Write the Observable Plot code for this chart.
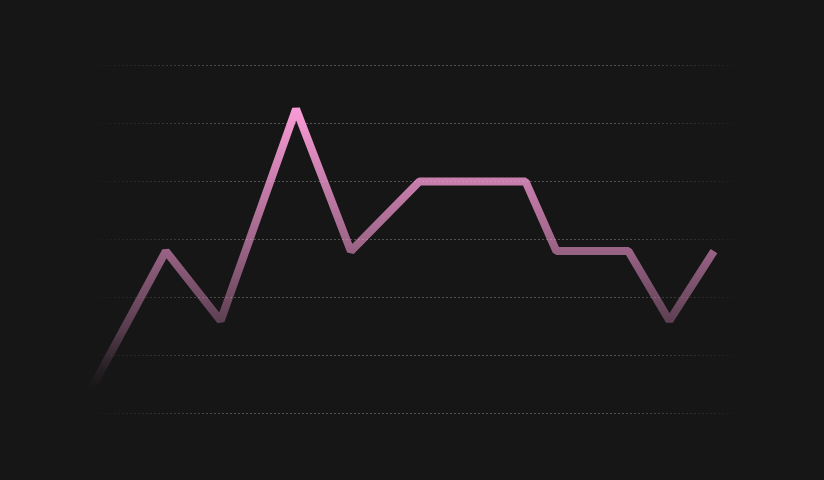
<!DOCTYPE html>
<html><head><meta charset="utf-8">
<script src="https://cdn.jsdelivr.net/npm/d3@7"></script>
<script src="https://cdn.jsdelivr.net/npm/@observablehq/plot@0.6"></script>
<style>html,body{margin:0;padding:0;background:#161616;}</style>
</head><body><div id="chart"></div>
<script>
const xs = [0, 11, 19, 30, 38, 48, 63.5, 68, 78.5, 84.5, 91];
const values = [4, 28, 16, 52.5, 28, 40, 40, 28, 28, 16, 28];
const gridTicks = [0, 10, 20, 30, 40, 50, 60];
const data = xs.map((x, i) => ({x, y: values[i]}));

function gradients(index, scales, vals, dims) {
  const d = d3.create("svg:defs");
  const g = d.append("linearGradient").attr("id", "gridFade")
    .attr("gradientUnits", "userSpaceOnUse")
    .attr("x1", dims.marginLeft).attr("x2", dims.width - dims.marginRight)
    .attr("y1", 0).attr("y2", 0);
  [[0, 0], [0.22, 1], [0.8, 1], [1, 0]].forEach(([o, a]) =>
    g.append("stop").attr("offset", o).attr("stop-color", "#535353").attr("stop-opacity", a));
  const yTop = scales.y(d3.max(values)), yBot = scales.y(d3.min(values));
  const l = d.append("linearGradient").attr("id", "lineFade")
    .attr("gradientUnits", "userSpaceOnUse")
    .attr("x1", 0).attr("x2", 0).attr("y1", yTop).attr("y2", yBot);
  [[0, 1], [0.5, 0.58], [0.79, 0.28], [0.93, 0.06], [1, 0]].forEach(([o, a]) =>
    l.append("stop").attr("offset", o).attr("stop-color", "#f99bd6").attr("stop-opacity", a));
  return d.node();
}

const chart = Plot.plot({
  width: 824,
  height: 480,
  marginLeft: 90,
  marginRight: 79,
  marginTop: 65,
  marginBottom: 67,
  style: {background: "#161616"},
  x: {domain: [0, 95.6], axis: null},
  y: {domain: [0, 60], axis: null},
  marks: [
    gradients,
    Plot.ruleY(gridTicks, {stroke: "url(#gridFade)", strokeWidth: 1, strokeDasharray: "2,2"}),
    Plot.line(data, {x: "x", y: "y", stroke: "url(#lineFade)", strokeWidth: 8,
      strokeLinecap: "butt", strokeLinejoin: "bevel"})
  ]
});
document.getElementById("chart").appendChild(chart);
</script>
</body></html>
